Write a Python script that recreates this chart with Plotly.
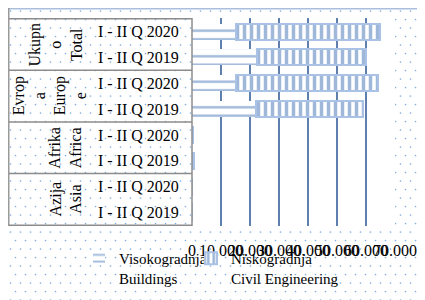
import base64
import plotly.graph_objects as go

# ---- data ----
regions = ["Ukupno Total", "Evropa Europe", "Afrika Africa", "Azija Asia"]
region_lines = [["Ukupn", "o", "Total"], ["Evrop", "a", "Europ", "e"],
                ["Afrika", "Africa"], ["Azija", "Asia"]]
periods = ["I - II Q 2020", "I - II Q 2019"]
buildings = [15100, 22300, 15000, 22200, 150, 120, 30, 20]   # Visokogradnja
civil = [49700, 37600, 49300, 36800, 350, 500, 40, 30]       # Niskogradnja
series_names = ["Visokogradnja<br>Buildings", "Niskogradnja<br>Civil Engineering"]
x_ticks = [0, 10000, 20000, 30000, 40000, 50000, 60000, 70000]

# ---- layout constants (pixels, figure coordinates) ----
W, H = 417, 292
ML, MR, MT, MB = 184, 30, 10, 74
PW, PH = W - ML - MR, H - MT - MB
FONT = "Liberation Serif, Times New Roman, serif"


def px_to_paper_x(px):
    return (px - ML) / PW


def px_to_paper_y(py):
    return 1 - (py - MT) / PH


cats = [f"{r}|{p}" for r in regions for p in periods]
ticktext = [p for r in regions for p in periods]

fig = go.Figure()
fig.add_trace(go.Bar(
    y=cats, x=buildings, orientation="h", name=series_names[0], legendwidth=67,
    marker=dict(color="white", line=dict(width=0),
                pattern=dict(shape="-", fgcolor="#3f72b5", bgcolor="white",
                             size=8.5, solidity=0.28)),
))
fig.add_trace(go.Bar(
    y=cats, x=civil, orientation="h", name=series_names[1], legendwidth=130,
    marker=dict(color="white", line=dict(width=2, color="#a9c2e6"),
                pattern=dict(shape="|", fgcolor="#3f72b5", bgcolor="white",
                             size=7, solidity=0.5)),
))

# dotted background (chart area fill)
svg = (
    f"<svg xmlns='http://www.w3.org/2000/svg' width='{W}' height='{H}'>"
    "<defs><pattern id='d' width='10' height='17' patternUnits='userSpaceOnUse'>"
    "<circle cx='2.5' cy='3' r='0.85' fill='#86aee0'/>"
    "<circle cx='7.5' cy='11.5' r='0.85' fill='#86aee0'/></pattern></defs>"
    f"<rect x='0' y='0' width='{W}' height='{H}' fill='url(#d)'/></svg>"
)
src = "data:image/svg+xml;base64," + base64.b64encode(svg.encode()).decode()
fig.add_layout_image(dict(
    source=src, xref="paper", yref="paper",
    x=px_to_paper_x(0), y=px_to_paper_y(0),
    sizex=W / PW, sizey=H / PH, sizing="stretch",
    xanchor="left", yanchor="top", layer="below",
))

shapes = []
# white plot area
shapes.append(dict(type="rect", xref="x domain", yref="y domain", x0=0, x1=1, y0=0, y1=1,
                   fillcolor="white", line=dict(width=0), layer="below"))
# chart-area border: top (light blue) and left (grey)
shapes.append(dict(type="line", xref="paper", yref="paper",
                   x0=px_to_paper_x(0), x1=px_to_paper_x(W), y0=px_to_paper_y(0.75), y1=px_to_paper_y(0.75),
                   line=dict(color="#a9bfdc", width=1.5)))
shapes.append(dict(type="line", xref="paper", yref="paper",
                   x0=px_to_paper_x(0.75), x1=px_to_paper_x(0.75), y0=px_to_paper_y(0), y1=0,
                   line=dict(color="#9a9a9a", width=1.5)))
# table: right border and group separators
shapes.append(dict(type="line", xref="paper", yref="paper", x0=0, x1=0, y0=0, y1=1,
                   line=dict(color="#8c8c8c", width=1.5)))
for k in range(len(regions) + 1):
    yy = k * len(periods) - 0.5
    shapes.append(dict(type="line", xref="paper", yref="y",
                       x0=px_to_paper_x(1), x1=0, y0=yy, y1=yy,
                       line=dict(color="#8c8c8c", width=1.5)))
fig.update_layout(shapes=shapes)

# group labels (rotated)
group_label_x_px = [48, 41, 57, 58]
for i, lines in enumerate(region_lines):
    fig.add_annotation(
        text="<br>".join(lines), textangle=-90,
        xref="paper", yref="y", x=px_to_paper_x(group_label_x_px[i]),
        y=i * len(periods) + (len(periods) - 1) / 2,
        xanchor="center", yanchor="middle", showarrow=False,
        font=dict(family=FONT, size=16, color="black"),
    )

fig.update_layout(
    width=W, height=H,
    margin=dict(l=ML, r=MR, t=MT, b=MB, autoexpand=False),
    paper_bgcolor="white", plot_bgcolor="white",
    barmode="stack", bargap=0.38,
    separators=",.",
    font=dict(family=FONT, size=16, color="black"),
    showlegend=True,
    legend=dict(orientation="h", x=px_to_paper_x(71), y=px_to_paper_y(234),
                xanchor="left", yanchor="top", valign="top",
                font=dict(family=FONT, size=15, color="black"),
                bgcolor="rgba(0,0,0,0)", traceorder="normal"),
    xaxis=dict(range=[0, 70000], tickvals=x_ticks, tickformat=",d", tickangle=0,
               showgrid=True, gridcolor="#5f7fae", gridwidth=1.5, zeroline=False,
               showline=False, ticks="outside", ticklen=10, tickcolor="rgba(0,0,0,0)",
               tickfont=dict(family=FONT, size=16, color="black")),
    yaxis=dict(type="category", categoryorder="array", categoryarray=cats,
               autorange="reversed", tickvals=cats, ticktext=ticktext,
               showgrid=False, zeroline=False, showline=False,
               ticks="outside", ticklen=9, tickcolor="rgba(0,0,0,0)",
               tickfont=dict(family=FONT, size=16, color="black")),
)

fig.write_html("out.html")
